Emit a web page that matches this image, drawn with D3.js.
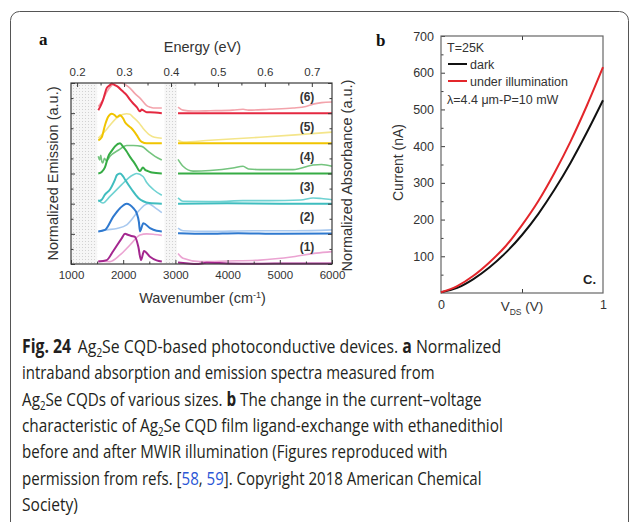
<!DOCTYPE html>
<html><head><meta charset="utf-8">
<script src="https://cdn.jsdelivr.net/npm/d3@7"></script>
<style>body{margin:0;background:#fff}svg{display:block}</style>
</head><body>
<svg id="c" width="629" height="522"></svg>
<script>
// ---------- DATA ----------
const wavenumberTicks = [1000, 2000, 3000, 4000, 5000, 6000];
const energyTicks = [0.2, 0.3, 0.4, 0.5, 0.6, 0.7];
const sampleLabels = ["(1)", "(2)", "(3)", "(4)", "(5)", "(6)"];
const shadedRanges = [[1000, 1500], [2790, 3030]];

// emission (dark) and absorbance (pale) per sample; [wavenumber cm-1, normalized value]
const emis1L = [[1523,0.08],[1684,0.13],[1810,0.43],[1971,0.85],[2035,1.0],[2098,0.96],[2160,0.93],[2226,0.9],[2290,0.57],[2341,0.13],[2399,0.43],[2513,0.24],[2640,0.12],[2740,0.08]];
const emis1R = [[3050,0.05],[3250,0.02],[3400,0.0],[3600,0.04],[4000,0.02],[4600,0.01],[5200,0.02],[6000,0.02]];
const absr1L = [[1523,0.1],[1747,0.08],[1939,0.3],[2130,0.63],[2322,0.96],[2450,1.0],[2600,0.98],[2740,0.95]];
const absr1R = [[3050,0.35],[3146,0.19],[3472,0.08],[4000,0.1],[4621,0.13],[5254,0.24],[5700,0.36],[6000,0.41]];

const emis2L = [[1523,0.08],[1651,0.13],[1810,0.57],[1939,0.85],[2067,1.0],[2194,0.85],[2259,0.68],[2300,0.4],[2322,0.08],[2385,0.35],[2513,0.19],[2640,0.1],[2740,0.08]];
const emis2R = [[3050,0.02],[3600,0.0],[4200,0.02],[5000,0.0],[6000,0.01]];
const absr2L = [[1523,0.08],[1684,0.13],[1880,0.18],[2067,0.3],[2259,0.68],[2418,0.96],[2481,1.0],[2620,0.85],[2740,0.7]];
const absr2R = [[3050,0.19],[3146,0.1],[3600,0.08],[4500,0.1],[5300,0.1],[6000,0.13]];

const emis3L = [[1523,0.08],[1588,0.13],[1650,0.3],[1747,0.47],[1843,0.8],[1880,0.95],[1939,1.0],[2000,0.9],[2035,0.8],[2163,0.47],[2290,0.19],[2385,0.08],[2500,0.02],[2740,0.0]];
const emis3R = [[3050,0.0],[4000,0.01],[5000,0.0],[6000,0.0]];
const absr3L = [[1523,0.13],[1613,0.02],[1747,0.24],[1971,0.63],[2100,0.85],[2194,0.96],[2259,1.0],[2380,0.9],[2450,0.7],[2577,0.47],[2740,0.28]];
const absr3R = [[3050,0.19],[3146,0.08],[3800,0.07],[4296,0.1],[4800,0.1],[5400,0.12],[5637,0.19],[5800,0.17],[6000,0.13]];

const emis4L = [[1523,0.0],[1588,0.05],[1650,0.2],[1715,0.57],[1780,0.75],[1843,0.9],[1939,1.0],[2000,0.88],[2067,0.73],[2130,0.55],[2194,0.4],[2250,0.25],[2290,0.13],[2322,0.08],[2379,0.2],[2420,0.12],[2475,0.08],[2550,0.03],[2740,0.0]];
const emis4R = [[3050,0.0],[4000,0.0],[5000,0.0],[6000,0.0]];
const absr4L = [[1523,0.57],[1550,0.45],[1570,0.6],[1590,0.4],[1610,0.35],[1640,0.5],[1680,0.42],[1747,0.57],[1906,0.77],[2067,0.93],[2194,0.93],[2355,0.9],[2481,0.73],[2609,0.57],[2740,0.45]];
const absr4R = [[3050,0.47],[3146,0.24],[3338,0.08],[3663,0.1],[4100,0.18],[4296,0.24],[4400,0.15],[4621,0.13],[5254,0.13],[5637,0.28],[5800,0.3],[6000,0.24]];

const emis5L = [[1523,0.1],[1588,0.2],[1651,0.6],[1709,0.87],[1780,0.98],[1840,0.93],[1876,0.87],[1939,0.93],[2000,0.82],[2035,0.7],[2100,0.58],[2163,0.49],[2259,0.27],[2322,0.1],[2355,0.05],[2450,0.0],[2740,0.0]];
const emis5R = [[3050,0.0],[4000,0.0],[5000,0.0],[6000,0.0]];
const absr5L = [[1523,0.17],[1650,0.4],[1747,0.6],[1850,0.8],[1900,0.87],[2067,0.98],[2130,0.96],[2188,0.87],[2300,0.68],[2379,0.5],[2513,0.27],[2600,0.2],[2740,0.17]];
const absr5R = [[3050,0.1],[3146,0.04],[3663,0.1],[4621,0.2],[5300,0.28],[6000,0.37]];

const emis6L = [[1523,0.1],[1556,0.2],[1613,0.43],[1684,0.83],[1747,0.93],[1780,0.98],[1840,0.93],[1900,0.87],[1980,0.74],[2067,0.6],[2130,0.45],[2188,0.33],[2260,0.2],[2322,0.06],[2355,0.12],[2379,0.1],[2450,0.03],[2513,0.03],[2740,0.0]];
const emis6R = [[3050,0.0],[4000,0.0],[5000,0.0],[6000,0.0]];
const absr6L = [[1523,0.22],[1613,0.45],[1684,0.7],[1780,0.92],[1843,1.0],[1971,1.0],[2035,0.95],[2130,0.83],[2226,0.65],[2322,0.5],[2450,0.25],[2513,0.2],[2577,0.17],[2740,0.17]];
const absr6R = [[3050,0.2],[3146,0.1],[3338,0.07],[3663,0.08],[4100,0.1],[4296,0.13],[4400,0.1],[4800,0.13],[5254,0.17],[5500,0.22],[5637,0.3],[5800,0.35],[6000,0.37]];

const darkColors = ["#a4278f", "#2f79cf", "#3fbdbf", "#36ac45", "#f0c400", "#e42840"];
const paleColors = ["#eba3d2", "#a9c9ef", "#6fd2d2", "#74c47e", "#f4e58a", "#f3a3ab"];

// panel b
const vdsTicks = [0, 1];
const currentTicks = [100, 200, 300, 400, 500, 600, 700];
const vds      = [0, 0.1, 0.2, 0.3, 0.4, 0.5, 0.6, 0.7, 0.8, 0.9, 1.0];
const iDark    = [2, 14, 38, 70, 110, 158, 215, 281, 355, 437, 525];
const iIllum   = [2, 19, 47, 84, 128, 185, 250, 327, 413, 510, 615];

// ---------- DRAW ----------
const svg = d3.select("#c");
const FONT = "'Liberation Sans', Arial, sans-serif";
const AX = "#3a3a3a";

svg.append("rect").attr("x", 10.5).attr("y", 11.5).attr("width", 618).attr("height", 540)
  .attr("rx", 9).attr("fill", "none").attr("stroke", "#555").attr("stroke-width", 1);

const defs = svg.append("defs");
const pat = defs.append("pattern").attr("id", "dots").attr("width", 3).attr("height", 3).attr("patternUnits", "userSpaceOnUse");
pat.append("rect").attr("width", 3).attr("height", 3).attr("fill", "#f6f6f6");
pat.append("rect").attr("x", 1).attr("y", 1).attr("width", 1).attr("height", 1).attr("fill", "#d2d2d2");

// ---- Panel a ----
const A = {l: 71, r: 332, t: 83, b: 264};
const xA = d3.scaleLinear().domain([1000, 6000]).range([A.l, A.r]);
const eA = d3.scaleLinear().domain([0.187, 0.743]).range([A.l, A.r]);
const yA = d3.scaleLinear().domain([0, 6]).range([A.b, A.t]);

const ga = svg.append("g");
ga.selectAll("rect.sh").data(shadedRanges).join("rect").attr("class", "sh")
  .attr("x", d => xA(d[0])).attr("y", A.t).attr("width", d => xA(d[1]) - xA(d[0])).attr("height", A.b - A.t)
  .attr("fill", "url(#dots)");

const series = [
  {e: [emis1L, emis1R], a: [absr1L, absr1R]},
  {e: [emis2L, emis2R], a: [absr2L, absr2R]},
  {e: [emis3L, emis3R], a: [absr3L, absr3R]},
  {e: [emis4L, emis4R], a: [absr4L, absr4R]},
  {e: [emis5L, emis5R], a: [absr5L, absr5R]},
  {e: [emis6L, emis6R], a: [absr6L, absr6R]},
];
series.forEach((s, i) => {
  const line = d3.line().x(d => xA(d[0])).y(d => yA(i + d[1])).curve(d3.curveMonotoneX);
  s.a.forEach(seg => ga.append("path").attr("d", line(seg)).attr("fill", "none")
    .attr("stroke", paleColors[i]).attr("stroke-width", 1.6).attr("stroke-linejoin", "round"));
});
series.forEach((s, i) => {
  const line = d3.line().x(d => xA(d[0])).y(d => yA(i + d[1])).curve(d3.curveMonotoneX);
  s.e.forEach(seg => ga.append("path").attr("d", line(seg)).attr("fill", "none")
    .attr("stroke", darkColors[i]).attr("stroke-width", 2).attr("stroke-linejoin", "round"));
});

ga.selectAll("text.lab").data(sampleLabels).join("text").attr("class", "lab")
  .attr("x", 307).attr("y", (d, i) => yA(i + 0.55) + 4).attr("text-anchor", "middle")
  .attr("font-family", FONT).attr("font-weight", "bold").attr("font-size", 12).attr("fill", "#333").text(d => d);

function styleAxis(g, fs) {
  g.select(".domain").remove();
  g.selectAll("line").attr("stroke", AX);
  g.selectAll("text").attr("font-family", FONT).attr("font-size", fs).attr("fill", "#333");
}
const minorWn = d3.range(1500, 6000, 1000);
const minorY = d3.range(0.5, 6, 1);
const minorE = [0.25, 0.35, 0.45, 0.55, 0.65];

let g;
g = ga.append("g").attr("transform", `translate(0,${A.b})`).call(d3.axisBottom(xA).tickValues(wavenumberTicks).tickFormat(d3.format("d")).tickSize(-4).tickPadding(7));
styleAxis(g, 11.5);
g = ga.append("g").attr("transform", `translate(0,${A.b})`).call(d3.axisBottom(xA).tickValues(minorWn).tickFormat("").tickSize(-2.5));
styleAxis(g, 11);
g = ga.append("g").attr("transform", `translate(0,${A.t})`).call(d3.axisTop(eA).tickValues(energyTicks).tickFormat(d3.format(".1f")).tickSize(-4).tickPadding(7));
styleAxis(g, 11.5);
g = ga.append("g").attr("transform", `translate(0,${A.t})`).call(d3.axisTop(eA).tickValues(minorE).tickFormat("").tickSize(-2.5));
styleAxis(g, 11);
[[A.l, d3.axisLeft], [A.r, d3.axisRight]].forEach(([x, ax]) => {
  let gg = ga.append("g").attr("transform", `translate(${x},0)`).call(ax(yA).tickValues(d3.range(0, 7)).tickFormat("").tickSize(-4));
  styleAxis(gg, 11);
  gg = ga.append("g").attr("transform", `translate(${x},0)`).call(ax(yA).tickValues(minorY).tickFormat("").tickSize(-2.5));
  styleAxis(gg, 11);
});
ga.append("rect").attr("x", A.l).attr("y", A.t).attr("width", A.r - A.l).attr("height", A.b - A.t)
  .attr("fill", "none").attr("stroke", AX).attr("stroke-width", 1.2);

ga.append("text").attr("x", (A.l + A.r) / 2 + 1).attr("y", 52).attr("text-anchor", "middle")
  .attr("font-family", FONT).attr("font-size", 14.5).attr("fill", "#333").text("Energy (eV)");
const wt = ga.append("text").attr("x", (A.l + A.r) / 2 + 1).attr("y", 303).attr("text-anchor", "middle")
  .attr("font-family", FONT).attr("font-size", 14.5).attr("fill", "#333");
wt.append("tspan").text("Wavenumber (cm");
wt.append("tspan").attr("dy", -5).attr("font-size", 9).text("-1");
wt.append("tspan").attr("dy", 5).text(")");
ga.append("text").attr("transform", `translate(58,${(A.t + A.b) / 2}) rotate(-90)`).attr("text-anchor", "middle")
  .attr("font-family", FONT).attr("font-size", 14.5).attr("fill", "#333").text("Normalized Emission (a.u.)");
ga.append("text").attr("transform", `translate(352,${(A.t + A.b) / 2 + 2}) rotate(-90)`).attr("text-anchor", "middle")
  .attr("font-family", FONT).attr("font-size", 14.5).attr("fill", "#333").text("Normalized Absorbance (a.u.)");

svg.append("text").attr("x", 39).attr("y", 45).attr("font-family", "'Liberation Serif', 'DejaVu Serif', serif")
  .attr("font-weight", "bold").attr("font-size", 17).attr("fill", "#111").text("a");
svg.append("text").attr("x", 376).attr("y", 46).attr("font-family", "'Liberation Serif', 'DejaVu Serif', serif")
  .attr("font-weight", "bold").attr("font-size", 17).attr("fill", "#111").text("b");

// ---- Panel b ----
const B = {l: 441, r: 603, t: 36, b: 293};
const xB = d3.scaleLinear().domain([0, 1]).range([B.l, B.r]);
const yB = d3.scaleLinear().domain([0, 700]).range([B.b, B.t]);
const gb = svg.append("g");

g = gb.append("g").attr("transform", `translate(${B.l},0)`).call(d3.axisLeft(yB).tickValues(currentTicks).tickSize(-4).tickPadding(7));
styleAxis(g, 12.5);
g = gb.append("g").attr("transform", `translate(${B.l},0)`).call(d3.axisLeft(yB).tickValues(d3.range(50, 700, 100)).tickFormat("").tickSize(-2.5));
styleAxis(g, 12);
g = gb.append("g").attr("transform", `translate(0,${B.b})`).call(d3.axisBottom(xB).tickValues([0.5]).tickFormat("").tickSize(-4));
styleAxis(g, 12);
g = gb.append("g").attr("transform", `translate(0,${B.b})`).call(d3.axisBottom(xB).tickValues(vdsTicks).tickFormat(d3.format("d")).tickSize(0).tickPadding(7));
styleAxis(g, 12.5);
g = gb.append("g").attr("transform", `translate(0,${B.t})`).call(d3.axisTop(xB).tickValues([0.5]).tickFormat("").tickSize(-4));
styleAxis(g, 12);
gb.append("rect").attr("x", B.l).attr("y", B.t).attr("width", B.r - B.l).attr("height", B.b - B.t)
  .attr("fill", "none").attr("stroke", "#666").attr("stroke-width", 1.2);

const lineB = arr => d3.line().x((d, i) => xB(vds[i])).y(d => yB(d)).curve(d3.curveMonotoneX)(arr);
gb.append("path").attr("d", lineB(iDark)).attr("fill", "none").attr("stroke", "#111").attr("stroke-width", 2);
gb.append("path").attr("d", lineB(iIllum)).attr("fill", "none").attr("stroke", "#e3262b").attr("stroke-width", 2);

const tb = (x, y, t, opts = {}) => gb.append("text").attr("x", x).attr("y", y).attr("font-family", FONT)
  .attr("font-size", opts.fs || 12.5).attr("fill", opts.fill || "#333").attr("font-weight", opts.fw || "normal")
  .attr("text-anchor", opts.anchor || "start").text(t);
tb(447, 52, "T=25K");
gb.append("line").attr("x1", 448).attr("x2", 467).attr("y1", 64).attr("y2", 64).attr("stroke", "#111").attr("stroke-width", 2);
tb(470, 68.5, "dark");
gb.append("line").attr("x1", 448).attr("x2", 467).attr("y1", 81).attr("y2", 81).attr("stroke", "#e3262b").attr("stroke-width", 2);
tb(470, 85.5, "under illumination");
tb(447, 104, "\u03bb=4.4 \u03bcm-P=10 mW");
tb(596, 284, "C.", {fw: "bold", fs: 13, anchor: "end", fill: "#222"});

const vt = gb.append("text").attr("x", xB(0.5)).attr("y", 311).attr("text-anchor", "middle")
  .attr("font-family", FONT).attr("font-size", 13.5).attr("fill", "#333");
vt.append("tspan").text("V");
vt.append("tspan").attr("dy", 4).attr("font-size", 8.5).text("DS");
vt.append("tspan").attr("dy", -4).text(" (V)");
gb.append("text").attr("transform", `translate(403,${(B.t + B.b) / 2 - 2}) rotate(-90)`).attr("text-anchor", "middle")
  .attr("font-family", FONT).attr("font-size", 14).attr("fill", "#333").text("Current (nA)");

// ---- Caption ----
const capLines = [
  [{t: "Fig. 24", b: 1}, {t: "Ag", dx: 8}, {t: "2", sub: 1}, {t: "Se CQD-based photoconductive devices. "}, {t: "a", b: 1}, {t: " Normalized"}],
  [{t: "intraband absorption and emission spectra measured from"}],
  [{t: "Ag"}, {t: "2", sub: 1}, {t: "Se CQDs of various sizes. "}, {t: "b", b: 1}, {t: " The change in the current\u2013voltage"}],
  [{t: "characteristic of Ag"}, {t: "2", sub: 1}, {t: "Se CQD film ligand-exchange with ethanedithiol"}],
  [{t: "before and after MWIR illumination (Figures reproduced with"}],
  [{t: "permission from refs. ["}, {t: "58", link: 1}, {t: ", "}, {t: "59", link: 1}, {t: "]. Copyright 2018 American Chemical"}],
  [{t: "Society)"}],
];
const capEnds = [495, 435, 482, 503, 448, 482, 78];
const capX = 22, capY0 = 353, capDy = 26.3;
capLines.forEach((segs, li) => {
  const t = svg.append("text").attr("font-family", "'Open Sans', 'Noto Sans', sans-serif").attr("font-size", 19)
    .attr("fill", "#231f20").attr("transform", `translate(${capX},${capY0 + li * capDy})`);
  let down = false;
  segs.forEach(s => {
    const sp = t.append("tspan").text(s.t);
    if (s.b) sp.attr("font-weight", "bold");
    if (s.dx) sp.attr("dx", s.dx);
    if (s.link) sp.attr("fill", "#2b56d6");
    if (s.sub) { sp.attr("dy", 4).attr("font-size", 12); down = true; }
    else if (down) { sp.attr("dy", -4); down = false; }
  });
  const w = t.node().getComputedTextLength();
  const k = (capEnds[li] - capX) / w;
  t.attr("transform", `translate(${capX},${capY0 + li * capDy}) scale(${k},1)`);
});
</script></body></html>
